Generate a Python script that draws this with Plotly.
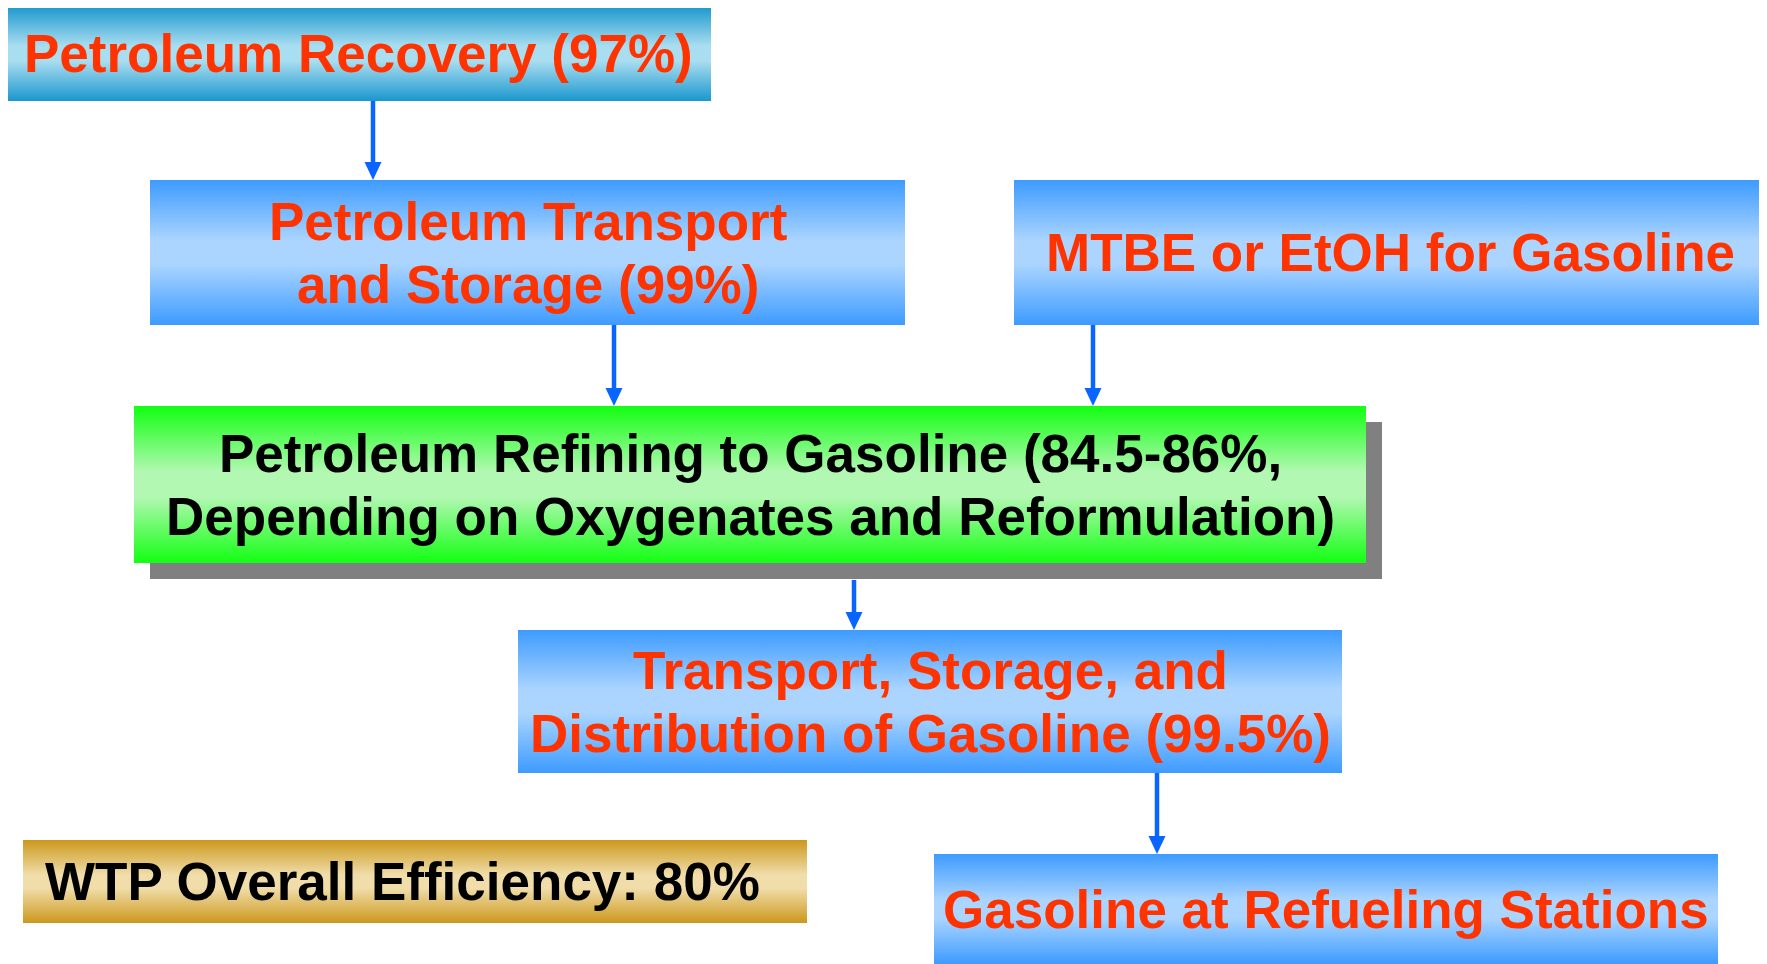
import plotly.graph_objects as go

# ---- content ----
box_labels = [
    ["Petroleum Recovery (97%)"],
    ["Petroleum Transport", "and Storage (99%)"],
    ["MTBE or EtOH for Gasoline"],
    ["Petroleum Refining to Gasoline (84.5-86%,", "Depending on Oxygenates and Reformulation)"],
    ["Transport, Storage, and", "Distribution of Gasoline (99.5%)"],
    ["Gasoline at Refueling Stations"],
    ["WTP Overall Efficiency: 80%"],
]

# ---- layout (pixel coordinates: x0, x1, y0, y1) ----
box_rects = [
    (6, 711, 6, 101),
    (150, 905, 180, 325),
    (1014, 1775, 180, 325),
    (134, 1366, 406, 563),
    (518, 1342, 630, 773),
    (934, 1718, 854, 975),
    (23, 807, 840, 923),
]
box_styles = ["teal", "blue", "blue", "green", "blue", "blue", "gold"]
text_colors = ["#FF3300", "#FF3300", "#FF3300", "#000000", "#FF3300", "#FF3300", "#000000"]
text_align = ["center"] * 6 + ["left"]
text_yc = [None, None, None, None, None, 909, None]
shadow_of = {3: (16, 16)}

gradients = {
    "teal": ("#1A97CE", "#A9DDF0"),
    "blue": ("#3D9BFF", "#ABD5FF"),
    "green": ("#12FF12", "#B2F8B2"),
    "gold": ("#CC981C", "#F0DDAA"),
}

# arrows: x, y_start, y_end
arrows = [
    (373, 101, 180),
    (614, 325, 406),
    (1093, 325, 406),
    (854, 580, 630),
    (1157, 773, 854),
]
arrow_color = "#0A64FF"

W, H = 1767, 964
OFF = 8  # page body margin compensation
FONT = "Arial, 'Liberation Sans', sans-serif"
FS = 53
LINE_GAP = 63

fig = go.Figure()

def rect_xy(x0, x1, y0, y1):
    return [x0, x1, x1, x0, x0], [y0, y0, y1, y1, y0]

for i, (x0, x1, y0, y1) in enumerate(box_rects):
    if i in shadow_of:
        dx, dy = shadow_of[i]
        xs, ys = rect_xy(x0 + dx, x1 + dx, y0 + dy, y1 + dy)
        fig.add_trace(go.Scatter(x=xs, y=ys, mode="lines", fill="toself",
                                 fillcolor="#808080", line=dict(width=0),
                                 hoverinfo="skip", showlegend=False))
    edge, mid = gradients[box_styles[i]]
    xs, ys = rect_xy(x0, x1, y0, y1)
    fig.add_trace(go.Scatter(
        x=xs, y=ys, mode="lines", fill="toself", line=dict(width=0),
        fillgradient=dict(type="vertical", start=y0, stop=min(y1, H),
                          colorscale=[[0, edge], [0.42, mid], [0.58, mid], [1, edge]]),
        hoverinfo="skip", showlegend=False))

# arrows
for (x, ya, yb) in arrows:
    head_h, head_w = 18, 17
    fig.add_trace(go.Scatter(x=[x, x], y=[ya, yb - head_h + 2], mode="lines",
                             line=dict(color=arrow_color, width=4.5),
                             hoverinfo="skip", showlegend=False))
    fig.add_trace(go.Scatter(x=[x - head_w / 2, x + head_w / 2, x, x - head_w / 2],
                             y=[yb - head_h, yb - head_h, yb, yb - head_h],
                             mode="lines", fill="toself", fillcolor=arrow_color,
                             line=dict(width=0, color=arrow_color),
                             hoverinfo="skip", showlegend=False))

# texts
for i, lines in enumerate(box_labels):
    x0, x1, y0, y1 = box_rects[i]
    yc = text_yc[i] if text_yc[i] is not None else (y0 + y1) / 2
    n = len(lines)
    for k, t in enumerate(lines):
        yy = yc + (k - (n - 1) / 2) * LINE_GAP
        if text_align[i] == "left":
            xx, xa = x0 + 20, "left"
        else:
            xx, xa = (x0 + min(x1, W)) / 2, "center"
        fig.add_annotation(x=xx, y=yy, text="<b>" + t + "</b>", showarrow=False,
                           xanchor=xa, yanchor="middle",
                           font=dict(family=FONT, size=FS, color=text_colors[i]))

fig.update_layout(
    width=W - OFF, height=H - OFF,
    margin=dict(l=0, r=0, t=0, b=0),
    paper_bgcolor="white", plot_bgcolor="white",
    xaxis=dict(range=[OFF, W], visible=False, fixedrange=True),
    yaxis=dict(range=[H, OFF], visible=False, fixedrange=True),
    showlegend=False,
)

fig.write_html("out.html")
